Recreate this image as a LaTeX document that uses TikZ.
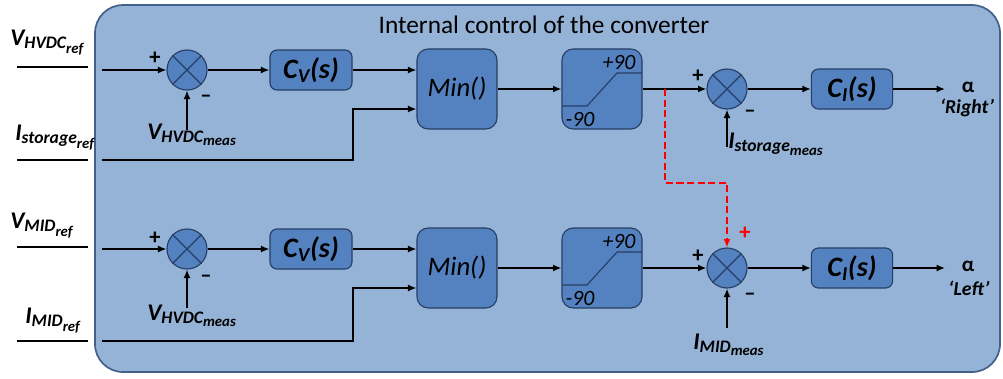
\documentclass[tikz,border=0pt]{standalone}
\usepackage{amsmath}
\usepackage{fontspec}
\setmainfont{Carlito}
\usetikzlibrary{arrows.meta,calc}

\definecolor{panel}{RGB}{149,179,215}
\definecolor{panelline}{RGB}{66,96,138}
\definecolor{blockfill}{RGB}{84,130,192}
\definecolor{blockline}{RGB}{38,62,100}

\DeclareMathSizes{17}{17}{12.5}{10.5}
\DeclareMathSizes{20}{20}{14}{11}
\newcommand{\sgl}[3]{$\text{#1}_{\text{#2}_{\text{#3}}}$}

\begin{document}
\begin{tikzpicture}[x=0.025cm,y=-0.025cm,
  >={Latex[length=6pt,width=5pt]},
  wire/.style={line width=1.1pt},
  blk/.style={draw=blockline,fill=blockfill,line width=0.8pt,rounded corners=5pt,inner sep=0pt},
  sumnode/.style={circle,draw=blockline,fill=blockfill,line width=0.8pt,minimum size=1cm,inner sep=0pt},
  tf/.style={font=\fontsize{20}{22}\selectfont\bfseries\itshape},
  lbl/.style={font=\fontsize{17}{20}\selectfont\bfseries\itshape,inner sep=0pt},
  sgn/.style={font=\fontsize{16}{18}\selectfont\bfseries,inner sep=0pt}]

\useasboundingbox (0,0) rectangle (1003,378);

% panel
\draw[panelline,fill=panel,line width=1.2pt,rounded corners=0.7cm] (95,5) rectangle (1000,372);
\node[font=\fontsize{18}{20}\selectfont] (title) at (544,25) {Internal control of the converter};

% upper loop
\node[sumnode] (s1) at (187,70) {};
\node[blk,tf,minimum width=2.05cm,minimum height=1cm] (cv1) at (311,70) {$\text{C}_{\text{V}}\text{(s)}$};
\node[blk,rounded corners=8pt,minimum width=2cm,minimum height=2cm,font=\fontsize{19}{22}\selectfont\itshape] (min1) at (457,89) {Min()};
\node[blk,rounded corners=8pt,minimum width=2cm,minimum height=2cm] (sat1) at (602,89) {};
\node[sumnode] (s2) at (727,89) {};
\node[blk,tf,minimum width=2.03cm,minimum height=1cm] (ci1) at (852,89) {$\text{C}_{\text{I}}\text{(s)}$};

% lower loop
\node[sumnode] (s3) at (187,249) {};
\node[blk,tf,minimum width=2.05cm,minimum height=1cm] (cv2) at (311,249) {$\text{C}_{\text{V}}\text{(s)}$};
\node[blk,rounded corners=8pt,minimum width=2cm,minimum height=2cm,font=\fontsize{19}{22}\selectfont\itshape] (min2) at (457,268) {Min()};
\node[blk,rounded corners=8pt,minimum width=2cm,minimum height=2cm] (sat2) at (602,268) {};
\node[sumnode] (s4) at (727,268) {};
\node[blk,tf,minimum width=2.03cm,minimum height=1cm] (ci2) at (852,268) {$\text{C}_{\text{I}}\text{(s)}$};

% crosses and limiters
\foreach \s in {s1,s2,s3,s4}
  \draw[blockline,line width=0.8pt] (\s.north east) -- (\s.south west) (\s.north west) -- (\s.south east);
\foreach \s in {sat1,sat2}{
  \draw[blockline,line width=0.8pt] ($(\s.center)+(-40,17)$) -- ++(25,0) -- ++(30,-33) -- ($(\s.center)+(40,-16)$);
  \node[font=\fontsize{15.5}{17}\selectfont\itshape,inner sep=0pt] (\s hi) at ($(\s.center)+(17,-27)$) {+90};
  \node[font=\fontsize{15.5}{17}\selectfont\itshape,inner sep=0pt] (\s lo) at ($(\s.center)+(-22,30)$) {-90};
}

% inputs
\coordinate (v1a) at (17,67);  \coordinate (v1b) at (88,67);  \coordinate (v1in) at (102,70);
\coordinate (i1a) at (17,160); \coordinate (i1b) at (88,160); \coordinate (i1in) at (102,160); \coordinate (k1) at (353,160);
\coordinate (v2a) at (17,247); \coordinate (v2b) at (88,247); \coordinate (v2in) at (102,249);
\coordinate (i2a) at (17,341); \coordinate (i2b) at (88,341); \coordinate (i2in) at (102,341); \coordinate (k2) at (353,341);
\coordinate (m1) at (187,130); \coordinate (m2) at (727,147);
\coordinate (m3) at (187,308); \coordinate (m4) at (727,328);
\coordinate (a1) at (945,89);  \coordinate (a2) at (945,268);
\coordinate (br) at (665,89);  \coordinate (bk) at (665,183);

\node[lbl,anchor=base west] (vhref) at (10,45) {\sgl{V}{HVDC}{ref}};
\node[lbl,anchor=base west] (isref) at (15,140) {\sgl{I}{storage}{ref}};
\node[lbl,anchor=base west] (vmref) at (10,228) {\sgl{V}{MID}{ref}};
\node[lbl,anchor=base west] (imref) at (25,323) {\sgl{I}{MID}{ref}};
\node[lbl,anchor=base west] (vhm1) at (147,139) {\sgl{V}{HVDC}{meas}};
\node[lbl,anchor=base west] (ism) at (728,148) {\sgl{I}{storage}{meas}};
\node[lbl,anchor=base west] (vhm2) at (147,320) {\sgl{V}{HVDC}{meas}};
\node[lbl,anchor=base west] (imm) at (693,349) {\sgl{I}{MID}{meas}};

\node[lbl,font=\fontsize{15}{18}\selectfont\bfseries] (al1) at (968,87) {α};
\node[lbl,font=\fontsize{14}{16}\selectfont\bfseries\itshape] (right) at (967,108) {`Right'};
\node[lbl,font=\fontsize{15}{18}\selectfont\bfseries] (al2) at (968,266) {α};
\node[lbl,font=\fontsize{14}{16}\selectfont\bfseries\itshape] (left) at (969,288) {`Left'};

% signs
\node[sgn] (p1) at (155,58) {+};  \node[sgn] (n1) at (206,99) {–};
\node[sgn] (p2) at (698,76) {+};  \node[sgn] (n2) at (750,114) {–};
\node[sgn] (p3) at (155,238) {+}; \node[sgn] (n3) at (206,279) {–};
\node[sgn] (p4) at (698,256) {+}; \node[sgn] (n4) at (750,297) {–};
\node[sgn,red] (p5) at (745,233) {+};

% signal lines
\draw[wire] (v1a) -- (v1b) (i1a) -- (i1b) (v2a) -- (v2b) (i2a) -- (i2b);
\draw[wire,->] (v1in) -- (s1);
\draw[wire,->] (s1) -- (cv1);
\draw[wire,->] (cv1.east) -- (cv1.east -| min1.west);
\draw[wire,->] (i1in) -- (k1) |- ([yshift=-0.5cm]min1.west);
\draw[wire,->] (min1) -- (sat1);
\draw[wire,->] (sat1) -- (s2);
\draw[wire,->] (s2) -- (ci1);
\draw[wire,->] (ci1) -- (a1);
\draw[wire,->] (m1) -- (s1);
\draw[wire,->] (m2) -- (s2);

\draw[wire,->] (v2in) -- (s3);
\draw[wire,->] (s3) -- (cv2);
\draw[wire,->] (cv2.east) -- (cv2.east -| min2.west);
\draw[wire,->] (i2in) -- (k2) |- ([yshift=-0.5cm]min2.west);
\draw[wire,->] (min2) -- (sat2);
\draw[wire,->] (sat2) -- (s4);
\draw[wire,->] (s4) -- (ci2);
\draw[wire,->] (ci2) -- (a2);
\draw[wire,->] (m3) -- (s3);
\draw[wire,->] (m4) -- (s4);

% coupling
\draw[red,line width=1.4pt,dash pattern=on 5pt off 2.5pt,->] (br) -- (bk) -| (s4);

\end{tikzpicture}
\end{document}
